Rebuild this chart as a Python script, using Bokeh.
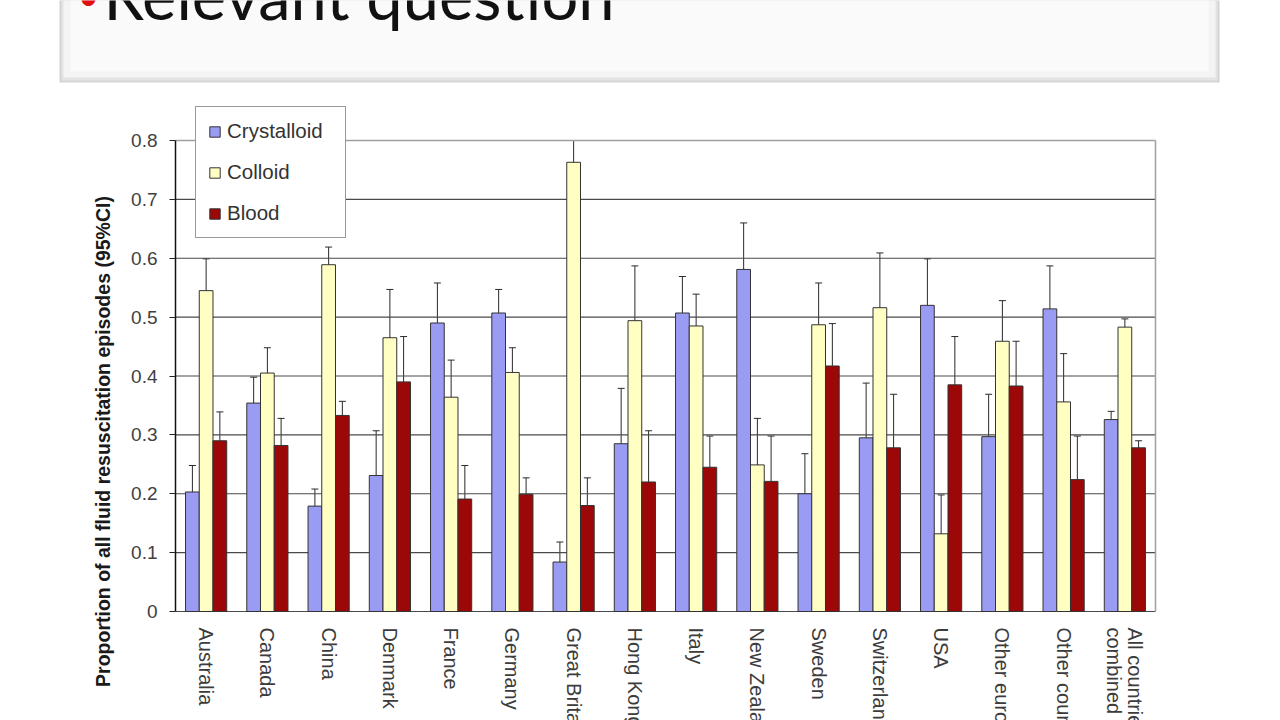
import math
from bokeh.plotting import figure
from bokeh.models import (ColumnDataSource, FactorRange, Range1d, FixedTicker,
                          Legend, LegendItem, Whisker, Label, LabelSet, TeeHead, BoxAnnotation)
from bokeh.transform import dodge
from bokeh.embed import file_html
from bokeh.resources import INLINE
from bokeh.core.properties import value

# ---------------- data ----------------
categories = ["Australia", "Canada", "China", "Denmark", "France", "Germany",
              "Great Britain", "Hong Kong", "Italy", "New Zealand", "Sweden",
              "Switzerland", "USA", "Other european countries", "Other countries",
              "All countries\ncombined"]

crystalloid    = [0.203, 0.354, 0.179, 0.231, 0.490, 0.507, 0.084, 0.285, 0.507, 0.581, 0.200, 0.295, 0.520, 0.297, 0.514, 0.326]
crystalloid_lo = [0.158, 0.307, 0.158, 0.169, 0.417, 0.468, 0.058, 0.198, 0.449, 0.500, 0.147, 0.219, 0.438, 0.226, 0.438, 0.311]
crystalloid_hi = [0.248, 0.398, 0.208, 0.307, 0.558, 0.547, 0.118, 0.379, 0.569, 0.660, 0.268, 0.388, 0.599, 0.369, 0.587, 0.340]

colloid    = [0.545, 0.405, 0.589, 0.465, 0.364, 0.406, 0.763, 0.494, 0.485, 0.249, 0.487, 0.516, 0.132, 0.459, 0.356, 0.483]
colloid_lo = [0.489, 0.357, 0.558, 0.380, 0.296, 0.368, 0.710, 0.398, 0.428, 0.177, 0.409, 0.417, 0.078, 0.387, 0.276, 0.467]
colloid_hi = [0.599, 0.448, 0.619, 0.547, 0.427, 0.448, 0.800, 0.587, 0.539, 0.328, 0.558, 0.609, 0.198, 0.528, 0.438, 0.497]

blood    = [0.290, 0.282, 0.333, 0.390, 0.191, 0.199, 0.180, 0.220, 0.245, 0.221, 0.417, 0.278, 0.385, 0.383, 0.224, 0.278]
blood_lo = [0.241, 0.236, 0.309, 0.313, 0.134, 0.171, 0.133, 0.133, 0.192, 0.144, 0.345, 0.187, 0.303, 0.307, 0.150, 0.266]
blood_hi = [0.339, 0.328, 0.357, 0.467, 0.248, 0.227, 0.227, 0.307, 0.298, 0.298, 0.489, 0.369, 0.467, 0.459, 0.298, 0.290]

series_names = ["Crystalloid", "Colloid", "Blood"]
y_ticks = [0.0, 0.1, 0.2, 0.3, 0.4, 0.5, 0.6, 0.7, 0.8]
y_tick_labels = ["0", "0.1", "0.2", "0.3", "0.4", "0.5", "0.6", "0.7", "0.8"]

slide_title = "Relevant question"
y_axis_title = "Proportion of all fluid resuscitation episodes (95%CI)"

# ---------------- layout / styles ----------------
W, H = 1280, 720
LEFT = 50                      # canvas border left of the frame
PX_PER_CAT = 61.25             # pixels per category
PX_PER_UNIT = 588.75           # pixels per 1.0 on the value axis
PLOT_LEFT, PLOT_BOTTOM = 175, 611
colors = ["#9a9cf4", "#ffffc4", "#9c0808"]
FONT = "Liberation Sans"

pad_units = (PLOT_LEFT - LEFT) / PX_PER_CAT
y_lo = -(H - PLOT_BOTTOM) / PX_PER_UNIT
y_hi = PLOT_BOTTOM / PX_PER_UNIT

src = ColumnDataSource(dict(
    cat=categories,
    crystalloid=crystalloid, crystalloid_lo=crystalloid_lo, crystalloid_hi=crystalloid_hi,
    colloid=colloid, colloid_lo=colloid_lo, colloid_hi=colloid_hi,
    blood=blood, blood_lo=blood_lo, blood_hi=blood_hi,
))

p = figure(width=W, height=H,
           x_range=FactorRange(*categories, range_padding=pad_units, range_padding_units="absolute"),
           y_range=Range1d(y_lo, y_hi), x_axis_location=None, y_axis_location="left",
           toolbar_location=None, output_backend="svg",
           min_border_left=LEFT, min_border_right=0, min_border_top=0, min_border_bottom=0)
p.background_fill_color = "white"
p.border_fill_color = "white"
p.outline_line_color = None
p.grid.visible = False

# ---- slide title box (decoration, screen units relative to frame) ----
def box(l, r, t, b, color):
    p.add_layout(BoxAnnotation(left=l - LEFT, right=r - LEFT, top=H - t, bottom=H - b,
                               left_units="screen", right_units="screen",
                               top_units="screen", bottom_units="screen",
                               fill_color=color, fill_alpha=1, line_color=None, level="underlay"))

box(59, 1219, -20, 82, "#d4d4d4")
box(61, 1217, -20, 80, "#e4e4e4")
box(63, 1215, -20, 77, "#f4f4f4")
box(70, 1208, -20, 71, "#fafafa")
p.add_layout(Label(x=88 - LEFT, y=H + 5, x_units="screen", y_units="screen", text="\u2022",
                   text_font="Lato", text_font_size="37px", text_color="#e01010",
                   text_align="center", text_baseline="middle"))
p.add_layout(Label(x=103 - LEFT, y=H + 6, x_units="screen", y_units="screen", text=slide_title,
                   text_font="Lato", text_font_size="65px", text_color="#111111",
                   text_align="left", text_baseline="alphabetic"))

# ---- grid and plot-area border ----
n = len(categories)
p.segment(x0=[0] * (len(y_ticks) - 1), x1=[n] * (len(y_ticks) - 1),
          y0=y_ticks[:-1], y1=y_ticks[:-1], line_color="#4a4a4a", line_width=1.2)
p.segment(x0=[0], x1=[n], y0=[y_ticks[-1]], y1=[y_ticks[-1]], line_color="#a0a0a0", line_width=1.5)
p.segment(x0=[n], x1=[n], y0=[y_ticks[0]], y1=[y_ticks[-1]], line_color="#a0a0a0", line_width=1.5)

# ---- y axis (placed at left edge of the category area) ----
yax = p.yaxis[0]
yax.fixed_location = 0
yax.bounds = (y_ticks[0], y_ticks[-1])
yax.ticker = FixedTicker(ticks=y_ticks)
yax.major_label_overrides = {t: s for t, s in zip(y_ticks, y_tick_labels)}
yax.major_label_text_font = FONT
yax.major_label_text_font_size = "19px"
yax.major_label_text_color = "#404040"
yax.major_tick_out = 6
yax.major_tick_in = 0
yax.minor_tick_line_color = None
yax.axis_line_color = "#111111"
yax.axis_line_width = 1.5
yax.major_tick_line_color = "#222222"
yax.major_label_standoff = 12

# ---- bars and error bars ----
bw = 0.224
keys = ["crystalloid", "colloid", "blood"]
offsets = [-bw, 0.0, bw]
renderers = []
for k, off, col in zip(keys, offsets, colors):
    r = p.vbar(x=dodge("cat", off, range=p.x_range), top=k, width=bw, bottom=0, source=src,
               fill_color=col, line_color="#333333", line_width=1)
    renderers.append(r)
    w = Whisker(source=src, base=dodge("cat", off, range=p.x_range), upper=k + "_hi", lower=k + "_lo",
                line_color="#2a2a2a", line_width=1,
                upper_head=TeeHead(size=7, line_color="#2a2a2a", line_width=1),
                lower_head=TeeHead(size=7, line_color="#2a2a2a", line_width=1))
    p.add_layout(w)

# ---- category labels (rotated, reading downward) ----
lab_src = ColumnDataSource(dict(cat=categories, yy=[0.0] * n))
p.add_layout(LabelSet(source=lab_src, x="cat", y="yy", y_offset=-16, text="cat", angle=-math.pi / 2,
                      text_align="left", text_baseline="middle", text_font=value(FONT),
                      text_font_size="20px", text_color="#3c3c3c", text_line_height=0.95))

# ---- y-axis title ----
p.add_layout(Label(x=102 - LEFT, y=H - 441, x_units="screen", y_units="screen", text=y_axis_title,
                   angle=math.pi / 2, text_align="center", text_baseline="middle",
                   text_font=FONT, text_font_size="19.5px", text_font_style="bold",
                   text_color="#1a1a1a"))

# ---- legend ----
legend = Legend(items=[LegendItem(label=nm, renderers=[r]) for nm, r in zip(series_names, renderers)],
                location=(195 - LEFT, H - 238), orientation="vertical", padding=12, spacing=17,
                glyph_width=13, glyph_height=13, label_height=18, label_width=106, label_standoff=6,
                label_text_font=FONT, label_text_font_size="20.5px", label_text_color="#333333",
                border_line_color="#333333", border_line_width=1.2,
                background_fill_color="white", background_fill_alpha=1, margin=0)
p.add_layout(legend)

open("out.html", "w").write(file_html(p, INLINE))
